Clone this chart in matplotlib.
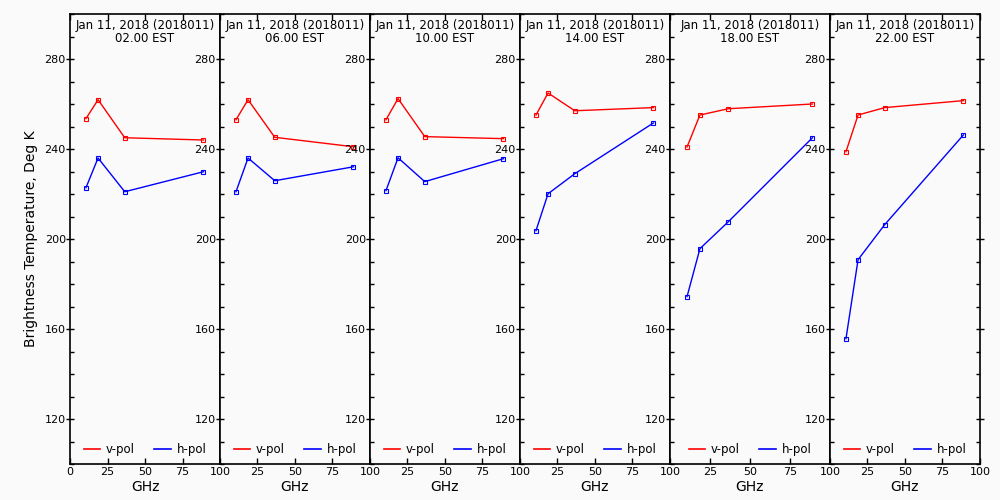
import matplotlib
matplotlib.use("Agg")
import matplotlib.pyplot as plt
from matplotlib.lines import Line2D
from matplotlib.ticker import FixedLocator, MultipleLocator

# frequencies (GHz) and brightness temperatures per time of day
freqs = [10.65, 18.7, 36.5, 89.0]
times = ["02.00 EST", "06.00 EST", "10.00 EST", "14.00 EST", "18.00 EST", "22.00 EST"]
date_label = "Jan 11, 2018 (2018011)"

vpol = [
    [253.5, 261.9, 245.0, 244.0],
    [253.0, 261.9, 245.2, 241.0],
    [253.0, 262.4, 245.5, 244.6],
    [255.1, 264.9, 257.0, 258.4],
    [240.9, 255.1, 257.9, 260.0],
    [238.8, 255.1, 258.4, 261.5],
]
hpol = [
    [222.8, 236.0, 221.0, 229.9],
    [221.0, 236.0, 225.9, 232.1],
    [221.5, 236.1, 225.5, 235.7],
    [203.7, 220.1, 229.0, 251.6],
    [174.4, 195.7, 207.7, 245.0],
    [155.7, 190.8, 206.4, 246.3],
]

bg = "#fafafa"
red = "#ff0000"
blue = "#0000ff"

fig = plt.figure(figsize=(10, 5), dpi=100, facecolor=bg)
gs = fig.add_gridspec(1, 6, width_ratios=[150, 150, 150, 150, 160, 150],
                      left=0.07, right=0.98, top=0.972, bottom=0.072, wspace=0)

# legend shows plain lines only
handles = [Line2D([], [], color=red, lw=1.2), Line2D([], [], color=blue, lw=1.2)]

for i in range(6):
    ax = fig.add_subplot(gs[0, i])
    ax.set_facecolor(bg)
    ax.plot(freqs, vpol[i], color=red, lw=1, marker="s", ms=3.5,
            mfc="none", mew=0.8)
    ax.plot(freqs, hpol[i], color=blue, lw=1, marker="s", ms=3.5,
            mfc="none", mew=0.8)
    ax.set_xlim(0, 100)
    ax.set_ylim(100, 300)

    ax.xaxis.set_major_locator(FixedLocator([0, 25, 50, 75, 100]))
    if i == 0:
        ax.set_xticklabels(["0", "25", "50", "75", "100"])
    else:
        ax.set_xticklabels(["", "25", "50", "75", "100"])
    ax.yaxis.set_major_locator(FixedLocator([120, 160, 200, 240, 280]))
    ax.yaxis.set_minor_locator(MultipleLocator(10))

    ax.tick_params(axis="x", which="major", direction="in", length=4,
                   top=True, bottom=True, labelsize=8, pad=2, width=1)
    ax.tick_params(axis="y", which="major", direction="inout", length=6,
                   left=True, right=(i == 5), labelsize=8, pad=0, width=1)
    ax.tick_params(axis="y", which="minor", direction="in", length=3,
                   left=True, right=(i == 5), width=1)
    for s in ax.spines.values():
        s.set_linewidth(1.2)

    ax.text(0.5, 0.99, date_label + "\n" + times[i], transform=ax.transAxes,
            ha="center", va="top", fontsize=8.5, linespacing=1.0)
    ax.set_xlabel("GHz", fontsize=10, labelpad=2)
    ax.legend(handles, ["v-pol", "h-pol"], loc="lower center", ncol=2,
              frameon=False, fontsize=8.5, handlelength=1.4,
              columnspacing=1.6, handletextpad=0.5, borderaxespad=0.3)
    if i == 0:
        ax.set_ylabel("Brightness Temperature, Deg K", fontsize=10, labelpad=5)

fig.savefig("out.png", dpi=100, facecolor=bg)
